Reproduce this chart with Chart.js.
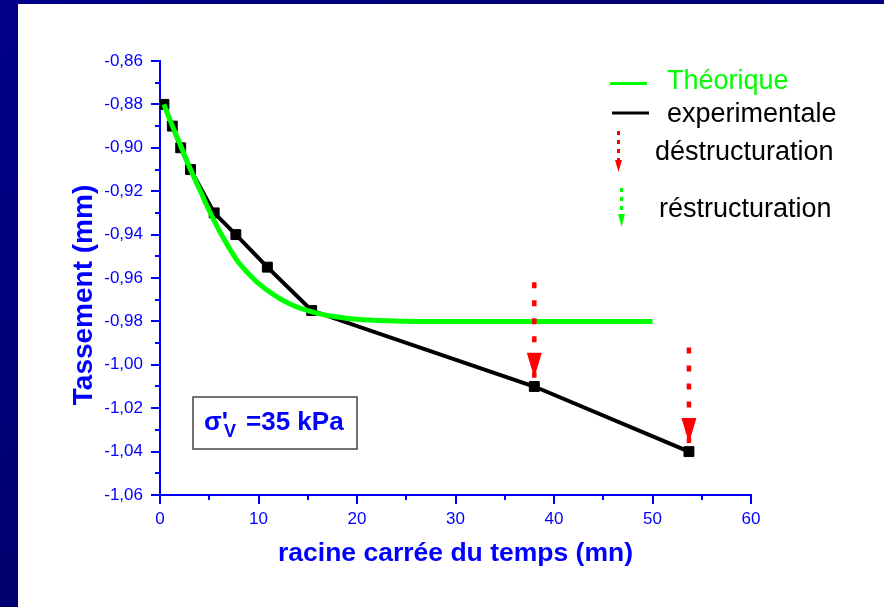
<!DOCTYPE html>
<html>
<head>
<meta charset="utf-8">
<script src="https://cdn.jsdelivr.net/npm/chart.js@4.4.0/dist/chart.umd.min.js"></script>
<style>
html, body { margin: 0; padding: 0; width: 884px; height: 607px; overflow: hidden;
  background: linear-gradient(135deg, #00008a 0%, #000070 40%, #000088 70%, #00006e 100%); }
#panel { position: absolute; left: 18px; top: 4px; width: 866px; height: 603px; background: #fff; }
</style>
</head>
<body>
<div id="panel"><canvas id="myChart" width="866" height="603"></canvas></div>
<script>
// donnees
const xExp = [0.4, 1.25, 2.1, 3.1, 5.5, 7.7, 10.9, 15.4, 38.0, 53.7];
const yExp = [-0.88, -0.89, -0.90, -0.91, -0.93, -0.94, -0.955, -0.975, -1.01, -1.04];

const xTheo = [0.4, 1, 2, 3, 4, 5, 6, 7, 8, 9, 10, 11, 12, 13, 14, 15, 16, 18, 20, 23, 26, 30, 40, 50];
const yTheo = [-0.88, -0.887, -0.898, -0.909, -0.919, -0.929, -0.938, -0.946, -0.953, -0.958, -0.9625, -0.966,
               -0.969, -0.9715, -0.9735, -0.975, -0.9763, -0.978, -0.979, -0.9797, -0.98, -0.98, -0.98, -0.98];

// fleches de destructuration (x, haut, pointe)
const arrowX = [38.0, 53.7];
const arrowTop = [-0.962, -0.992];
const arrowTip = [-1.006, -1.036];

const legendLabels = ['Théorique', 'experimentale', 'déstructuration', 'réstructuration'];
const xTitle = 'racine carrée du temps (mn)';
const yTitle = 'Tassement (mm)';

const BLUE = '#0000ff';
const GREEN = '#00ff00';
const RED = '#ff0000';
const FONT = "'Liberation Sans', Arial, sans-serif";

Chart.defaults.font.family = FONT;

let pts = (xs, ys) => xs.map((x, i) => ({x: x, y: ys[i]}));

let arrowSets = arrowX.map((x, i) => ({
    label: 'arrow' + i,
    data: [{x: x, y: arrowTop[i]}, {x: x, y: arrowTip[i]}],
    borderColor: RED,
    borderWidth: 4.5,
    borderDash: [6, 12],
    pointRadius: 0,
    arrowHead: true,
    order: 0
}));

function drawHead(ctx, x, y, len, half, color) {
    ctx.save();
    ctx.fillStyle = color;
    ctx.beginPath();
    ctx.moveTo(x, y);
    ctx.lineTo(x - half, y - len);
    ctx.lineTo(x + half, y - len);
    ctx.closePath();
    ctx.fill();
    ctx.restore();
}

const extras = {
    id: 'extras',
    afterDatasetsDraw(chart) {
        const ctx = chart.ctx;
        // pointes des fleches
        chart.data.datasets.forEach((ds, i) => {
            if (!ds.arrowHead) return;
            const meta = chart.getDatasetMeta(i);
            const p = meta.data[meta.data.length - 1];
            drawHead(ctx, p.x, p.y, 25, 7.5, RED);
        });
    },
    afterDraw(chart) {
        const ctx = chart.ctx;
        const xs = chart.scales.x, ys = chart.scales.y;
        const area = chart.chartArea;
        // graduations secondaires
        ctx.save();
        ctx.strokeStyle = BLUE;
        ctx.lineWidth = 2;
        ctx.beginPath();
        for (let v = 5; v < 60; v += 10) {
            const px = Math.round(xs.getPixelForValue(v));
            ctx.moveTo(px, area.bottom);
            ctx.lineTo(px, area.bottom + 5);
        }
        for (let k = 0; k < 10; k++) {
            const py = Math.round(ys.getPixelForValue(-1.05 + k * 0.02));
            ctx.moveTo(area.left, py);
            ctx.lineTo(area.left - 5, py);
        }
        ctx.stroke();
        ctx.restore();

        // titre de l'axe y
        ctx.save();
        ctx.translate(66, 291);
        ctx.rotate(-Math.PI / 2);
        ctx.font = 'bold 28px ' + FONT;
        ctx.fillStyle = BLUE;
        ctx.textAlign = 'center';
        ctx.textBaseline = 'middle';
        ctx.fillText(yTitle, 0, 0);
        ctx.restore();

        // legende
        ctx.save();
        ctx.font = '27px ' + FONT;
        ctx.textBaseline = 'alphabetic';
        ctx.lineWidth = 3;
        ctx.strokeStyle = GREEN;
        ctx.beginPath(); ctx.moveTo(592, 79.5); ctx.lineTo(629, 79.5); ctx.stroke();
        ctx.fillStyle = GREEN;
        ctx.fillText(legendLabels[0], 649, 85);
        ctx.strokeStyle = '#000';
        ctx.beginPath(); ctx.moveTo(594, 109); ctx.lineTo(631, 109); ctx.stroke();
        ctx.fillStyle = '#000';
        ctx.fillText(legendLabels[1], 649, 117.5);

        ctx.setLineDash([4, 5]);
        ctx.strokeStyle = RED;
        ctx.beginPath(); ctx.moveTo(600.5, 127); ctx.lineTo(600.5, 157); ctx.stroke();
        drawHead(ctx, 600.5, 168, 12, 3.5, RED);
        ctx.strokeStyle = GREEN;
        ctx.beginPath(); ctx.moveTo(603.5, 184); ctx.lineTo(603.5, 210); ctx.stroke();
        drawHead(ctx, 603.5, 223, 13, 3.5, GREEN);
        ctx.setLineDash([]);
        ctx.fillStyle = '#000';
        ctx.fillText(legendLabels[2], 637, 156);
        ctx.fillText(legendLabels[3], 641, 213);

        // cadre sigma'v
        ctx.strokeStyle = '#444';
        ctx.lineWidth = 1.5;
        ctx.strokeRect(175, 393, 164, 52);
        ctx.fillStyle = BLUE;
        ctx.font = 'bold 26px ' + FONT;
        ctx.fillText("σ'", 186, 426);
        ctx.font = 'bold 18px ' + FONT;
        ctx.fillText('V', 206, 433);
        ctx.font = 'bold 26px ' + FONT;
        ctx.fillText('=35 kPa', 228, 426);
        ctx.restore();
    }
};

const chart = new Chart(document.getElementById('myChart').getContext('2d'), {
    type: 'line',
    data: {
        datasets: [
            {
                label: legendLabels[0],
                data: pts(xTheo, yTheo),
                borderColor: GREEN,
                borderWidth: 5,
                pointRadius: 0,
                cubicInterpolationMode: 'monotone',
                order: 1
            },
            {
                label: legendLabels[1],
                data: pts(xExp, yExp),
                borderColor: '#000',
                borderWidth: 4,
                pointStyle: 'rect',
                pointRadius: 7,
                pointBackgroundColor: '#000',
                pointBorderColor: '#000',
                pointBorderWidth: 1,
                tension: 0,
                order: 2
            },
            ...arrowSets
        ]
    },
    options: {
        responsive: false,
        animation: false,
        layout: { padding: { left: 0, top: 57, right: 133, bottom: 0 } },
        plugins: {
            legend: { display: false },
            tooltip: { enabled: false }
        },
        scales: {
            x: {
                type: 'linear',
                min: 0,
                max: 60,
                afterFit: (scale) => { scale.height = 112; },
                border: { color: BLUE, width: 2 },
                grid: { drawOnChartArea: false, color: BLUE, lineWidth: 2, tickLength: 9 },
                ticks: {
                    stepSize: 10, color: BLUE, padding: 5, maxRotation: 0, autoSkip: false,
                    font: { size: 17 }
                },
                title: {
                    display: true, text: xTitle, color: BLUE,
                    font: { size: 26.5, weight: 'bold' },
                    padding: { top: 0, bottom: 37 }
                }
            },
            y: {
                type: 'linear',
                min: -1.06,
                max: -0.86,
                afterFit: (scale) => { scale.width = 142; },
                border: { color: BLUE, width: 2 },
                grid: { drawOnChartArea: false, color: BLUE, lineWidth: 2, tickLength: 9 },
                ticks: {
                    stepSize: 0.02, color: BLUE, padding: 8, autoSkip: false,
                    font: { size: 17 },
                    callback: (v) => v.toFixed(2).replace('.', ',')
                },
                title: { display: false }
            }
        }
    },
    plugins: [extras]
});
</script>
</body>
</html>
